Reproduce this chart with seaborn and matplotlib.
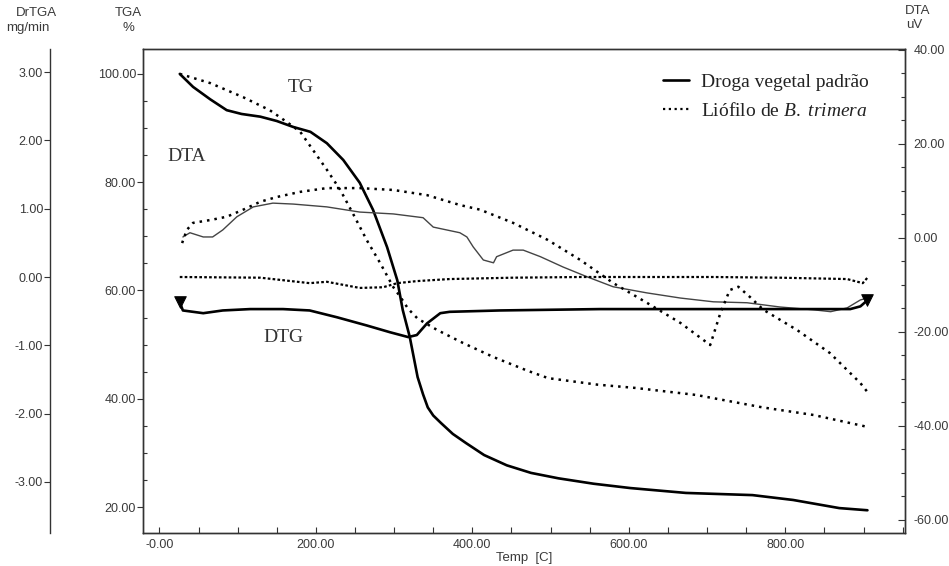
import matplotlib
matplotlib.use("Agg")
import matplotlib.pyplot as plt
import seaborn as sns
from matplotlib.lines import Line2D
from matplotlib.ticker import MultipleLocator, FixedLocator, FixedFormatter, FormatStrFormatter

sns.set_theme(style="ticks")
plt.rcParams["font.family"] = ["Liberation Sans", "DejaVu Sans"]
plt.rcParams["mathtext.fontset"] = "custom"
plt.rcParams["mathtext.rm"] = "Liberation Serif"
plt.rcParams["mathtext.it"] = "Liberation Serif:italic"

# ---- TG (%) ----
tg_padrao_t = [26, 43, 65, 86, 105, 129, 150, 171, 193, 214, 235, 256, 273, 291, 304, 311,
               320, 330, 337, 343, 350, 360, 375, 392, 415, 444, 475, 510, 555, 602, 673,
               758, 810, 869, 905]
tg_padrao = [100.0, 97.6, 95.3, 93.3, 92.6, 92.1, 91.3, 90.2, 89.3, 87.2, 84.1, 79.9, 74.9,
             68.0, 61.9, 56.4, 51.4, 44.0, 40.8, 38.4, 36.9, 35.5, 33.5, 31.8, 29.6, 27.7,
             26.3, 25.3, 24.3, 23.5, 22.6, 22.2, 21.3, 19.8, 19.4]

tg_liofilo_t = [26, 65, 107, 141, 163, 180, 196, 214, 231, 247, 265, 282, 299, 308, 318,
                330, 355, 388, 427, 470, 497, 560, 608, 686, 771, 836, 905]
tg_liofilo = [100.0, 98.3, 95.7, 93.3, 91.1, 89.3, 86.0, 82.3, 78.6, 74.3, 69.3, 65.1, 60.6,
              58.8, 56.6, 54.8, 52.7, 50.3, 47.7, 45.2, 43.8, 42.6, 42.0, 40.7, 38.4, 37.0, 34.8]

# ---- DTA (uV) ----
dta_padrao_t = [30, 39, 56, 68, 81, 99, 120, 145, 171, 214, 256, 299, 337, 350, 384, 393,
                401, 414, 427, 431, 452, 465, 487, 516, 547, 580, 623, 666, 708, 751, 793,
                836, 858, 879, 896, 905]
dta_padrao = [0.2, 1.1, 0.2, 0.2, 1.7, 4.5, 6.6, 7.4, 7.2, 6.6, 5.5, 5.1, 4.3, 2.3, 1.1, 0.2,
              -1.9, -4.7, -5.3, -4.0, -2.6, -2.6, -4.0, -6.2, -8.3, -10.4, -11.7, -12.8, -13.6,
              -13.8, -14.7, -15.3, -15.7, -14.9, -13.2, -12.8]

dta_liofilo_t = [29, 35, 43, 65, 86, 107, 129, 150, 180, 214, 256, 299, 342, 384, 410, 452,
                 496, 538, 580, 623, 666, 704, 717, 729, 740, 755, 772, 815, 857, 896, 905]
dta_liofilo = [-1.1, 1.7, 3.2, 3.8, 4.5, 6.0, 7.7, 8.7, 9.8, 10.6, 10.6, 10.2, 9.1, 7.0, 6.0,
               3.2, -0.4, -4.7, -9.6, -13.8, -18.1, -22.8, -16.0, -11.1, -10.4, -12.6, -15.3,
               -19.6, -24.5, -30.9, -32.8]

# ---- DTG (mg/min) ----
dtg_padrao_t = [26, 30, 56, 81, 116, 158, 192, 227, 265, 295, 318, 329, 342, 359, 371, 435,
                563, 691, 819, 883, 896, 905]
dtg_padrao = [-0.37, -0.49, -0.53, -0.49, -0.47, -0.47, -0.49, -0.59, -0.71, -0.81, -0.88,
              -0.85, -0.68, -0.53, -0.51, -0.49, -0.47, -0.47, -0.47, -0.47, -0.43, -0.34]

dtg_liofilo_t = [26, 129, 192, 214, 256, 286, 304, 329, 371, 452, 538, 623, 708, 793, 879,
                 899, 905]
dtg_liofilo = [0.0, -0.01, -0.09, -0.07, -0.16, -0.15, -0.09, -0.06, -0.03, -0.01, 0.0, 0.0,
               0.0, -0.01, -0.03, -0.09, -0.01]

x_ticks = [0, 200, 400, 600, 800]
x_tick_labels = ["-0.00", "200.00", "400.00", "600.00", "800.00"]
series_labels = ["Droga vegetal padrão", r"Liófilo de $\it{B.\ trimera}$"]

TXT = "#3a3a3a"
SPINE = "#333333"

fig = plt.figure(figsize=(9.49, 5.66), dpi=100)
W, H = 949, 566
L, R, T, B = 143, 905, 49, 533
ax = fig.add_axes([L / W, 1 - B / H, (R - L) / W, (B - T) / H])
ax_dta = ax.twinx()
ax_dtg = ax.twinx()

solid_kw = dict(color="black", linewidth=1.9, sort=False, estimator=None)
dot_kw = dict(color="black", linewidth=1.8, linestyle=(0, (1.0, 2.0)), sort=False,
              estimator=None)

# TG curves on the % axis
sns.lineplot(x=tg_padrao_t, y=tg_padrao, ax=ax, **solid_kw)
sns.lineplot(x=tg_liofilo_t, y=tg_liofilo, ax=ax, **dot_kw)

# DTA curves on the uV axis
sns.lineplot(x=dta_padrao_t, y=dta_padrao, ax=ax_dta, color="#444444", linewidth=1.0,
             sort=False, estimator=None)
sns.lineplot(x=dta_liofilo_t, y=dta_liofilo, ax=ax_dta, **dot_kw)

# DTG curves on the mg/min axis
sns.lineplot(x=dtg_padrao_t, y=dtg_padrao, ax=ax_dtg, **solid_kw)
sns.lineplot(x=dtg_liofilo_t, y=dtg_liofilo, ax=ax_dtg, color="black", linewidth=1.6,
             linestyle=(0, (1.2, 1.0)), sort=False, estimator=None)
sns.scatterplot(x=[dtg_padrao_t[0], dtg_padrao_t[-1]], y=[dtg_padrao[0], dtg_padrao[-1]],
                ax=ax_dtg, marker="v", s=70, color="black", edgecolor="black", zorder=5)

# Limits
ax.set_xlim(-21, 953)
ax.set_ylim(15.2, 104.6)
ax_dta.set_ylim(-62.8, 40.2)
ax_dtg.set_ylim(-3.75, 3.34)

# X axis
ax.xaxis.set_major_locator(FixedLocator(x_ticks))
ax.xaxis.set_major_formatter(FixedFormatter(x_tick_labels))
ax.xaxis.set_minor_locator(MultipleLocator(50))
ax.tick_params(axis="x", which="both", direction="in", length=4, width=0.8, color=SPINE,
               labelsize=9, labelcolor=TXT, pad=4, top=False)
ax.set_xlabel("Temp  [C]", fontsize=9.5, color=TXT, labelpad=1)

# Left % axis
ax.yaxis.set_major_locator(MultipleLocator(20))
ax.yaxis.set_minor_locator(MultipleLocator(5))
ax.yaxis.set_major_formatter(FormatStrFormatter("%.2f"))
ax.tick_params(axis="y", which="major", direction="out", length=4, width=0.8, color=SPINE,
               labelsize=9, labelcolor=TXT, pad=1)
ax.tick_params(axis="y", which="minor", direction="in", length=3, width=0.8, color=SPINE)
ax.set_ylabel("")

# Right uV axis
ax_dta.yaxis.set_major_locator(MultipleLocator(20))
ax_dta.yaxis.set_minor_locator(MultipleLocator(5))
ax_dta.yaxis.set_major_formatter(FormatStrFormatter("%.2f"))
ax_dta.tick_params(axis="y", which="major", direction="in", length=5, width=0.8, color=SPINE,
                   labelsize=9, labelcolor=TXT, pad=6)
ax_dta.tick_params(axis="y", which="minor", direction="in", length=3, width=0.8, color=SPINE)
ax_dta.set_ylabel("")

# Outer-left mg/min axis
ax_dtg.yaxis.tick_left()
ax_dtg.yaxis.set_label_position("left")
ax_dtg.spines["left"].set_position(("axes", (50 - L) / (R - L)))
for s in ["right", "top", "bottom"]:
    ax_dtg.spines[s].set_visible(False)
ax_dtg.spines["left"].set_visible(True)
ax_dtg.yaxis.set_major_locator(MultipleLocator(1))
ax_dtg.yaxis.set_major_formatter(FormatStrFormatter("%.2f"))
ax_dtg.tick_params(axis="y", which="major", direction="out", length=4, width=0.8, color=SPINE,
                   labelsize=9, labelcolor=TXT, pad=1, right=False, left=True)
ax_dtg.set_ylabel("")
ax_dtg.patch.set_visible(False)
ax_dta.patch.set_visible(False)

for a in (ax, ax_dta):
    for s in a.spines.values():
        s.set_color(SPINE)
        s.set_linewidth(1.0)
ax_dtg.spines["left"].set_color(SPINE)
ax_dtg.spines["left"].set_linewidth(1.0)

# Axis titles
fig.text(36 / W, 1 - 13 / H, "DrTGA", fontsize=9.5, color=TXT, ha="center", va="center")
fig.text(50 / W, 1 - 28 / H, "mg/min", fontsize=9.5, color=TXT, ha="right", va="center")
fig.text(128 / W, 1 - 13 / H, "TGA", fontsize=9.5, color=TXT, ha="center", va="center")
fig.text(128 / W, 1 - 28 / H, "%", fontsize=9.5, color=TXT, ha="center", va="center")
fig.text(918 / W, 1 - 11 / H, "DTA", fontsize=9.5, color=TXT, ha="center", va="center")
fig.text(914 / W, 1 - 25 / H, "uV", fontsize=9.5, color=TXT, ha="center", va="center")

# Curve annotations
serif = ["Liberation Serif", "DejaVu Serif"]
ax.text(180, 97.4, "TG", family=serif, fontsize=14, color="#333333", ha="center", va="center")
ax.text(35, 84.7, "DTA", family=serif, fontsize=14, color="#333333", ha="center", va="center")
ax.text(158, 51.4, "DTG", family=serif, fontsize=14, color="#333333", ha="center", va="center")

# Legend
handles = [Line2D([], [], color="black", linewidth=1.9),
           Line2D([], [], color="black", linewidth=1.6, linestyle=(0, (1.0, 1.6)))]
leg = ax_dtg.legend(handles, series_labels, loc="upper left",
                    bbox_to_anchor=(663 / W, 1 - 73 / H), bbox_transform=fig.transFigure,
                    frameon=False, borderpad=0, borderaxespad=0, handlelength=1.35,
                    handletextpad=0.6, labelspacing=0.6,
                    prop={"family": serif, "size": 14})
for t in leg.get_texts():
    t.set_color("#222222")

fig.savefig("out.png", dpi=100)
